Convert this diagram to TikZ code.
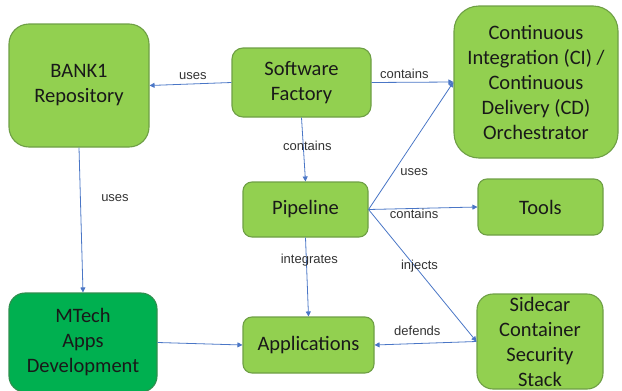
\documentclass[tikz,border=0pt]{standalone}
\usepackage{fontspec}
\setmainfont{Carlito}
\newfontfamily\lblfont{Liberation Sans}
\usetikzlibrary{arrows.meta}
\definecolor{boxfill}{HTML}{92D050}
\definecolor{boxline}{HTML}{6E9F45}
\definecolor{darkfill}{HTML}{00B050}
\definecolor{darkline}{HTML}{2F8F4E}
\definecolor{arrowblue}{HTML}{4A76C6}
\definecolor{lbltext}{HTML}{333333}
\tikzset{
  box/.style={draw=boxline, fill=boxfill, line width=1.1pt, align=center,
    text=black!90, inner sep=0pt, font=\fontsize{20.5}{25}\selectfont},
  darkbox/.style={box, draw=darkline, fill=darkfill},
  conn/.style={draw=arrowblue, line width=0.8pt, -{Triangle[width=5pt,length=5pt]}},
  lbl/.style={font=\lblfont\fontsize{13}{15}\selectfont, text=lbltext, inner sep=0pt}
}
\begin{document}
\begin{tikzpicture}[x=1pt,y=-1pt]
\useasboundingbox (0,0) rectangle (622,391);
\node[box, minimum width=140pt, minimum height=123pt, rounded corners=20pt] (bank) at (79,85.5) {BANK1\\Repository};
\node[box, minimum width=139pt, minimum height=69pt, rounded corners=11pt] (sf) at (301.5,82.5) {Software\\Factory};
\node[box, minimum width=164pt, minimum height=152pt, rounded corners=25pt] (ci) at (536,82) {Continuous\\Integration (CI) /\\Continuous\\Delivery (CD)\\Orchestrator};
\node[box, minimum width=125pt, minimum height=55pt, rounded corners=9pt] (pipe) at (305.5,209.5) {Pipeline};
\node[box, minimum width=125pt, minimum height=56pt, rounded corners=9pt] (tools) at (540.5,207) {Tools};
\node[darkbox, minimum width=148pt, minimum height=99pt, rounded corners=16pt] (mtech) at (83,342.5) {MTech\\Apps\\Development};
\node[box, minimum width=131pt, minimum height=56pt, rounded corners=9pt] (apps) at (308.5,345) {Applications};
\node[box, minimum width=126pt, minimum height=95pt, rounded corners=16pt] (side) at (540,341.5) {Sidecar\\Container\\Security\\Stack};

\draw[conn] (sf.west) -- node[lbl, pos=0.47, yshift=8pt] {uses} (bank.east);
\draw[conn] (sf.east) -- node[lbl, pos=0.4, yshift=8pt] {contains} (ci.west);
\draw[conn] (sf.south) -- node[lbl, pos=0.45, xshift=4pt] {contains} (pipe.north);
\draw[conn] (bank.south) -- node[lbl, pos=0.35, xshift=34.6pt] {uses} (mtech.north);
\draw[conn] (pipe.east) -- node[lbl, pos=0.294, xshift=20.7pt] {uses} (ci.west);
\draw[conn] (pipe.east) -- node[lbl, pos=0.418, yshift=-5.5pt] {contains} (tools.west);
\draw[conn] (pipe.east) -- node[lbl, pos=0.472, yshift=5.8pt] {injects} (side.west);
\draw[conn] (pipe.south) -- node[lbl, pos=0.29, xshift=3pt] {integrates} (apps.north);
\draw[conn] (mtech.east) -- (apps.west);
\draw[conn] (side.west) -- node[lbl, pos=0.58, yshift=12.5pt] {defends} (apps.east);
\end{tikzpicture}
\end{document}
